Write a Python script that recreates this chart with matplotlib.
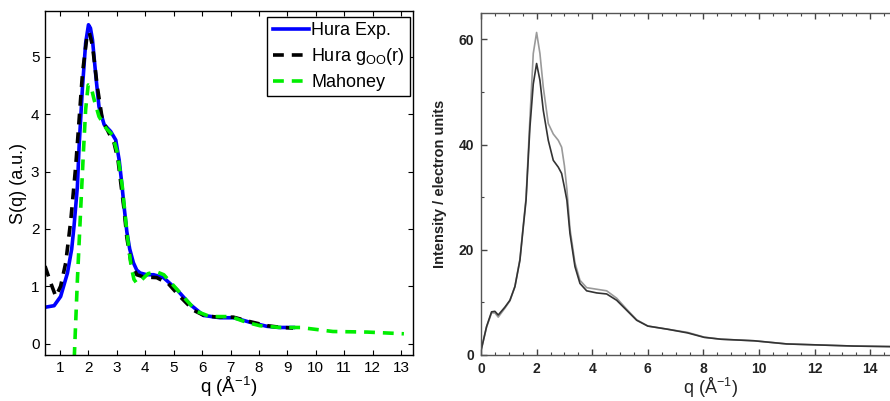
import matplotlib
matplotlib.use("Agg")
import matplotlib.pyplot as plt
from matplotlib.ticker import MultipleLocator

plt.rcParams["font.family"] = ["Liberation Sans", "DejaVu Sans"]
plt.rcParams["mathtext.fontset"] = "custom"
plt.rcParams["mathtext.rm"] = "Liberation Sans"
plt.rcParams["mathtext.it"] = "Liberation Sans:italic"

# left panel: S(q)
q_exp = [0.44, 0.79, 1.02, 1.26, 1.41, 1.49, 1.61, 1.67, 1.79, 1.90, 2.0, 2.07, 2.14,
         2.26, 2.37, 2.55, 2.78, 2.96, 3.08, 3.17, 3.25, 3.35, 3.45, 3.58, 3.70, 3.82,
         4.05, 4.29, 4.64, 5.11, 5.58, 6.05, 6.63, 7.10, 7.34, 7.69, 8.28, 8.7, 9.21]
s_exp = [0.63, 0.66, 0.82, 1.23, 1.65, 2.04, 2.74, 3.44, 4.48, 5.24, 5.56, 5.5, 5.3,
         4.66, 4.13, 3.82, 3.70, 3.55, 3.2, 2.8, 2.4, 1.95, 1.65, 1.41, 1.28, 1.23,
         1.2, 1.2, 1.15, 0.94, 0.68, 0.49, 0.45, 0.45, 0.42, 0.37, 0.3, 0.28, 0.28]

q_goo = [0.47, 0.67, 0.85, 1.02, 1.2, 1.38, 1.55, 1.67, 1.79, 1.96, 2.03, 2.14, 2.31,
         2.49, 2.72, 2.9, 3.04, 3.15, 3.25, 3.35, 3.5, 3.7, 3.95, 4.4, 4.8, 5.2, 5.7,
         6.1, 6.6, 7.1, 7.7, 8.3, 8.8, 9.2]
s_goo = [1.35, 1.06, 0.82, 1.0, 1.41, 2.16, 3.09, 3.9, 4.72, 5.41, 5.42, 5.2, 4.48,
         3.9, 3.67, 3.5, 3.2, 2.75, 2.35, 1.85, 1.4, 1.2, 1.16, 1.15, 1.05, 0.83, 0.58,
         0.48, 0.46, 0.46, 0.38, 0.31, 0.28, 0.27]

q_mah = [1.50, 1.61, 1.73, 1.82, 1.90, 1.99, 2.09, 2.20, 2.37, 2.61, 2.84, 3.02, 3.19,
         3.35, 3.5, 3.6, 3.7, 3.85, 4.1, 4.4, 4.65, 5.05, 5.46, 5.81, 6.28, 7.0, 7.56,
         8.04, 8.75, 9.45, 10.6, 11.8, 13.1]
s_mah = [-0.25, 1.11, 2.39, 3.32, 4.08, 4.51, 4.48, 4.25, 3.96, 3.76, 3.64, 3.32, 2.74,
         1.95, 1.35, 1.12, 1.05, 1.1, 1.22, 1.25, 1.2, 0.98, 0.75, 0.56, 0.47, 0.47, 0.37,
         0.31, 0.28, 0.28, 0.21, 0.2, 0.17]

# right panel: intensity
q_int = [0.0, 0.2, 0.38, 0.5, 0.62, 0.86, 1.04, 1.22, 1.40, 1.52, 1.62, 1.76, 1.88,
         2.0, 2.12, 2.24, 2.42, 2.6, 2.78, 2.9, 3.0, 3.09, 3.2, 3.38, 3.56, 3.8, 4.16,
         4.52, 4.88, 5.24, 5.6, 6.0, 6.71, 7.43, 8.03, 8.63, 9.83, 11.0, 12.2, 13.4,
         14.7, 15.5]
i_dark = [0.8, 5.4, 8.2, 8.3, 7.6, 9.1, 10.4, 13.0, 18.0, 24.3, 29.4, 43.3, 51.5,
          55.4, 52.2, 46.5, 40.8, 37.0, 35.7, 34.5, 31.9, 29.4, 23.1, 16.8, 13.6, 12.2, 11.8,
          11.6, 10.4, 8.5, 6.6, 5.5, 4.9, 4.2, 3.35, 3.0, 2.7, 2.1, 1.9, 1.7,
          1.6, 1.55]
i_gray = [0.8, 5.3, 8.0, 8.0, 7.2, 8.9, 10.3, 13.0, 18.2, 24.6, 29.8, 45.0, 57.3,
          61.3, 57.3, 50.9, 44.0, 42.0, 40.8, 39.5, 36.0, 31.5, 24.0, 17.5, 14.2, 12.8, 12.5,
          12.2, 10.8, 8.7, 6.7, 5.5, 4.9, 4.3, 3.4, 3.0, 2.7, 2.1, 1.9, 1.7,
          1.6, 1.55]

fig = plt.figure(figsize=(8.9, 4.01), dpi=100)
W, H = 890, 401

# ---- left
ax = fig.add_axes([45 / W, 46 / H, 368 / W, 344 / H])
ax.plot(q_exp, s_exp, color="#0000ff", lw=2.6, label="Hura Exp.")
ax.plot(q_goo, s_goo, color="black", lw=2.6, ls=(0, (3, 2.2)),
        label="Hura g$_{\\rm OO}$(r)")
ax.plot(q_mah, s_mah, color="#00ee00", lw=2.6, ls=(0, (3, 2.2)), label="Mahoney")
ax.set_xlim(0.47, 13.42)
ax.set_ylim(-0.2, 5.8)
ax.set_xticks(range(1, 14))
ax.set_yticks(range(0, 6))
ax.tick_params(direction="in", length=3.5, width=0.8, top=True, right=True,
               labelsize=11, pad=4)
for s in ax.spines.values():
    s.set_linewidth(1.0)
ax.set_xlabel("q (Å$^{-1}$)", fontsize=13.5, labelpad=0)
ax.set_ylabel("S(q) (a.u.)", fontsize=13, labelpad=3)
leg = ax.legend(loc="upper right", bbox_to_anchor=(0.992, 0.983), borderaxespad=0,
                fontsize=13, handlelength=2.0, handletextpad=0.15, fancybox=False,
                framealpha=1, edgecolor="black", borderpad=0.3, labelspacing=0.38)
leg.get_frame().set_linewidth(1.0)

# ---- right
ax2 = fig.add_axes([481 / W, 46 / H, 15.4 * 27.8 / W, 342 / H])
ax2.plot(q_int, i_gray, color="#9a9a9a", lw=1.2)
ax2.plot(q_int, i_dark, color="#333333", lw=1.2)
ax2.set_xlim(0, 15.4)
ax2.set_ylim(0, 65)
ax2.xaxis.set_major_locator(MultipleLocator(2))
ax2.xaxis.set_minor_locator(MultipleLocator(0.5))
ax2.yaxis.set_major_locator(MultipleLocator(20))
ax2.yaxis.set_minor_locator(MultipleLocator(10))
ax2.tick_params(which="both", direction="in", top=True, right=False,
                colors="#444444", labelcolor="#222222")
ax2.tick_params(which="major", length=4, width=1.0, labelsize=10, pad=5)
ax2.tick_params(which="minor", length=2, width=0.8)
for lab in ax2.get_xticklabels() + ax2.get_yticklabels():
    lab.set_fontweight("bold")
for name, s in ax2.spines.items():
    s.set_color("#555555")
    s.set_linewidth(1.0)
ax2.spines["right"].set_visible(False)
ax2.set_ylabel("Intensity / electron units", fontsize=10.5, fontweight="bold",
               color="#222222", labelpad=8)
ax2.set_xlabel("q (Å$^{-1}$)", fontsize=13, color="#222222")
ax2.xaxis.set_label_coords(8.25 / 15.4, -0.06)

fig.savefig("out.png", dpi=100)
